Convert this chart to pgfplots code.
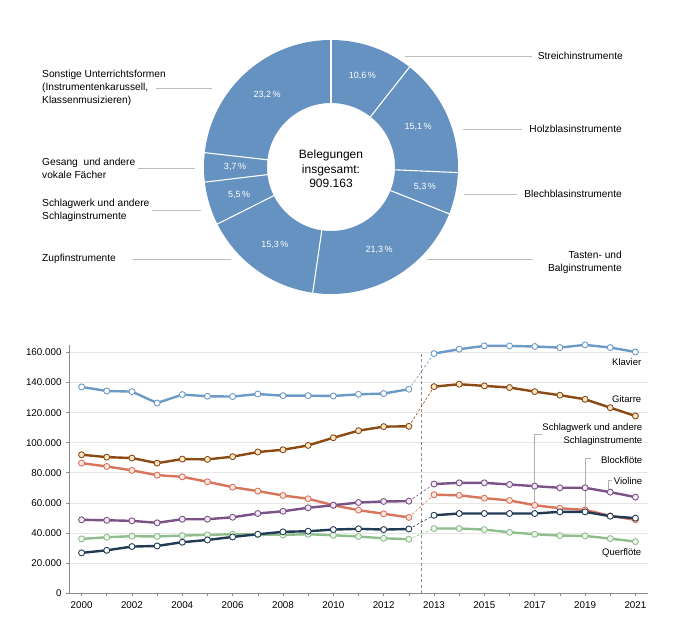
\documentclass[border=0pt]{standalone}
\usepackage{pgfplots}
\pgfplotsset{compat=1.18}
\usepackage{pgfplotstable}
\usepackage{fontspec}
\setmainfont{Liberation Sans}

\definecolor{piecol}{HTML}{6592C0}
\definecolor{leader}{HTML}{BDBDBD}
\definecolor{axisgray}{HTML}{8C8C8C}
\definecolor{gridgray}{HTML}{E6E6E6}
\definecolor{kl}{HTML}{6B9AC6}
\definecolor{gi}{HTML}{8B4A13}
\definecolor{gifill}{HTML}{FBE7C8}
\definecolor{bl}{HTML}{D8745C}
\definecolor{blfill}{HTML}{FDE8E0}
\definecolor{vi}{HTML}{7B5287}
\definecolor{vifill}{HTML}{F4EAF6}
\definecolor{sw}{HTML}{213B56}
\definecolor{qf}{HTML}{8FBE8C}
\definecolor{qffill}{HTML}{EEF7EC}

\pgfplotstableread{
cum pct lab
0 10.6 {10,6\,\%}
10.6 15.1 {15,1\,\%}
25.7 5.3 {5,3\,\%}
31.0 21.3 {21,3\,\%}
52.3 15.3 {15,3\,\%}
67.6 5.5 {5,5\,\%}
73.1 3.7 {3,7\,\%}
76.8 23.2 {23,2\,\%}
}\pietable

\tikzset{ser/.style 2 args={color=#1, line width=2.4pt, mark=*, mark size=3pt,
  mark options={fill=#2, draw=#1, line width=0.9pt, solid}},
  conn/.style={color=#1, dash pattern=on 2.5pt off 2pt, line width=0.6pt}}

\begin{document}
\begin{tikzpicture}
\path[use as bounding box] (0,0) rectangle (675pt,-630pt);

% ---------------- donut ----------------
\begin{axis}[hide axis, scale only axis, x=1pt, y=1pt,
  xmin=-130, xmax=130, ymin=-130, ymax=130,
  at={(331pt,-167pt)}, anchor=center, clip=false]
\fill[piecol, even odd rule] (axis cs:0,0) circle[radius=127pt] (axis cs:0,0) circle[radius=64pt];
\pgfplotsinvokeforeach{0,10.6,25.7,31.0,52.3,67.6,73.1,76.8}{
  \draw[white, line width=1.1pt] (axis cs:{60*cos(90-3.6*#1)},{60*sin(90-3.6*#1)}) -- (axis cs:{131*cos(90-3.6*#1)},{131*sin(90-3.6*#1)});
}
\addplot[draw=none, nodes near coords, point meta=explicit symbolic,
  nodes near coords style={text=white, font=\fontsize{9}{10}\selectfont, anchor=center, inner sep=0pt}]
  table[x expr={96*cos(90-3.6*(\thisrow{cum}+\thisrow{pct}/2))},
        y expr={96*sin(90-3.6*(\thisrow{cum}+\thisrow{pct}/2))}, meta=lab] {\pietable};
\node[align=center, font=\fontsize{12}{14.5}\selectfont, inner sep=0pt] at (axis cs:0,-2) {Belegungen\\insgesamt:\\909.163};
\end{axis}

% leaders and labels
\begin{scope}[leader, line width=0.7pt]
\draw (405pt,-56pt) -- (532pt,-56pt);
\draw (463pt,-129pt) -- (522pt,-129pt);
\draw (464pt,-194pt) -- (517pt,-194pt);
\draw (427pt,-259pt) -- (533pt,-259pt);
\draw (156pt,-88pt) -- (212pt,-88pt);
\draw (138pt,-168pt) -- (195pt,-168pt);
\draw (152pt,-210pt) -- (201pt,-210pt);
\draw (133pt,-259pt) -- (231pt,-259pt);
\end{scope}
\begin{scope}[every node/.style={inner sep=0pt, font=\fontsize{10.2}{13.3}\selectfont}]
\node[anchor=east] at (623pt,-56pt) {Streichinstrumente};
\node[anchor=east] at (622pt,-129pt) {Holzblasinstrumente};
\node[anchor=east] at (622pt,-194pt) {Blechblasinstrumente};
\node[anchor=east, align=right] at (622pt,-262.5pt) {Tasten- und\\Balginstrumente};
\node[anchor=west, align=left] at (42pt,-88pt) {Sonstige Unterrichtsformen\\(Instrumentenkarussell,\\Klassenmusizieren)};
\node[anchor=west, align=left] at (42pt,-168.5pt) {Gesang \ und andere\\vokale Fächer};
\node[anchor=west, align=left] at (42pt,-210.5pt) {Schlagwerk und andere\\Schlaginstrumente};
\node[anchor=west] at (42pt,-259pt) {Zupfinstrumente};
\end{scope}

% ---------------- line chart ----------------
\begin{axis}[at={(69pt,-593pt)}, anchor=south west, scale only axis,
  width=579pt, height=248pt,
  xmin=-0.5, xmax=22.5, ymin=0, ymax=165000,
  axis lines=left, axis line style={-, draw=axisgray, line width=0.6pt},
  xtick={0,...,22},
  xticklabels={2000,,2002,,2004,,2006,,2008,,2010,,2012,,2013,,2015,,2017,,2019,,2021},
  ytick={0,20000,40000,60000,80000,100000,120000,140000,160000},
  yticklabels={0,20.000,40.000,60.000,80.000,100.000,120.000,140.000,160.000},
  scaled y ticks=false,
  tick align=outside, major tick length=3pt,
  tick style={draw=axisgray, line width=0.6pt},
  ymajorgrids, grid style={draw=gridgray, line width=0.6pt},
  tick label style={font=\fontsize{9.8}{11}\selectfont},
  xticklabel style={yshift=-2pt}, yticklabel style={xshift=-1pt},
  /pgf/number format/assume math mode=true,
  clip=false]

\draw[axisgray, dash pattern=on 3pt off 2.5pt, line width=0.7pt] (axis cs:13.5,0) -- (axis cs:13.5,161000);

% callouts
\draw[leader!80!gray, line width=0.7pt] (axis cs:18.28,105300) -- (axis cs:18,105300) -- (axis cs:18,59500);
\draw[leader!80!gray, line width=0.7pt] (axis cs:20.25,89300) -- (axis cs:20.02,89300) -- (axis cs:20.02,56500);
\draw[leader!80!gray, line width=0.7pt] (axis cs:21.07,74700) -- (axis cs:20.93,74700) -- (axis cs:20.93,69000);

% connectors
\addplot[conn=kl] coordinates {(13,135600) (14,159300)};
\addplot[conn=gi] coordinates {(13,110900) (14,137300)};
\addplot[conn=qf] coordinates {(13,35800) (14,42900)};
\addplot[conn=bl] coordinates {(13,50300) (14,65400)};
\addplot[conn=vi] coordinates {(13,61100) (14,72500)};
\addplot[conn=sw] coordinates {(13,42600) (14,51700)};

% Klavier
\addplot[ser={kl}{white}] coordinates {(0,137100) (1,134400) (2,134000) (3,126400) (4,132000) (5,130900) (6,130700) (7,132400) (8,131300) (9,131300) (10,131100) (11,132200) (12,132700) (13,135600)};
\addplot[ser={kl}{white}] coordinates {(14,159300) (15,162200) (16,164400) (17,164400) (18,164000) (19,163300) (20,165100) (21,163300) (22,160400)};
% Gitarre
\addplot[ser={gi}{gifill}] coordinates {(0,92000) (1,90400) (2,89800) (3,86400) (4,89100) (5,88900) (6,90700) (7,93800) (8,95300) (9,98200) (10,103300) (11,108000) (12,110700) (13,110900)};
\addplot[ser={gi}{gifill}] coordinates {(14,137300) (15,138900) (16,137800) (17,136700) (18,134000) (19,131600) (20,128900) (21,123300) (22,117800)};
% Querfloete
\addplot[ser={qf}{qffill}] coordinates {(0,36000) (1,37100) (2,37800) (3,37600) (4,38200) (5,38700) (6,39100) (7,38900) (8,38700) (9,39100) (10,38400) (11,37600) (12,36400) (13,35800)};
\addplot[ser={qf}{qffill}] coordinates {(14,42900) (15,42900) (16,42200) (17,40400) (18,39100) (19,38200) (20,38000) (21,36200) (22,34200)};
% Blockfloete
\addplot[ser={bl}{blfill}] coordinates {(0,86400) (1,84200) (2,81600) (3,78400) (4,77300) (5,74000) (6,70400) (7,67800) (8,64900) (9,62700) (10,58400) (11,55100) (12,52700) (13,50300)};
\addplot[ser={bl}{blfill}] coordinates {(14,65400) (15,65000) (16,63100) (17,61600) (18,58400) (19,56400) (20,55300) (21,51300) (22,48700)};
% Violine
\addplot[ser={vi}{vifill}] coordinates {(0,48700) (1,48400) (2,48000) (3,46700) (4,49100) (5,49100) (6,50400) (7,52900) (8,54400) (9,56700) (10,58400) (11,60200) (12,60900) (13,61100)};
\addplot[ser={vi}{vifill}] coordinates {(14,72500) (15,73300) (16,73300) (17,72200) (18,71100) (19,70000) (20,70000) (21,67100) (22,63800)};
% Schlagwerk
\addplot[ser={sw}{white}] coordinates {(0,26700) (1,28400) (2,30900) (3,31300) (4,33800) (5,35300) (6,37300) (7,39100) (8,40700) (9,41100) (10,42200) (11,42700) (12,42200) (13,42600)};
\addplot[ser={sw}{white}] coordinates {(14,51700) (15,52900) (16,52900) (17,52900) (18,52900) (19,54000) (20,54000) (21,51100) (22,49800)};

\begin{scope}[every node/.style={inner sep=0pt, anchor=east, font=\fontsize{9.5}{13}\selectfont}]
\node at (axis cs:22.24,153300) {Klavier};
\node at (axis cs:22.24,129300) {Gitarre};
\node[align=right] at (axis cs:22.28,105700) {Schlagwerk und andere\\Schlaginstrumente};
\node at (axis cs:22.28,88700) {Blockflöte};
\node at (axis cs:22.28,74700) {Violine};
\node at (axis cs:22.24,26700) {Querflöte};
\end{scope}
\end{axis}
\end{tikzpicture}
\end{document}
